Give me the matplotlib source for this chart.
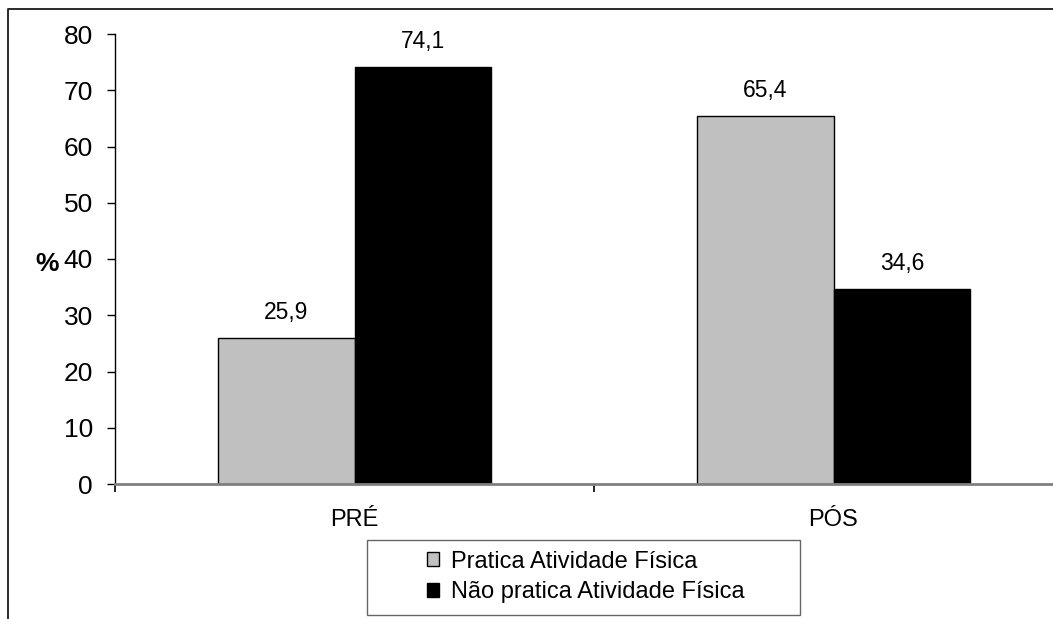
import matplotlib
matplotlib.use("Agg")
import numpy as np
import matplotlib.pyplot as plt
from matplotlib.lines import Line2D
from matplotlib.patches import Rectangle

# data
categories = ["PRÉ", "PÓS"]
pratica = [25.9, 65.4]
nao_pratica = [74.1, 34.6]
series_labels = ["Pratica Atividade Física", "Não pratica Atividade Física"]
yticks = [0, 10, 20, 30, 40, 50, 60, 70, 80]

W, H = 1053, 619
plt.rcParams['font.family'] = ['Liberation Sans', 'DejaVu Sans']
fig = plt.figure(figsize=(W / 100, H / 100), dpi=100)

# outer chart frame (runs off the right and bottom of the picture)
fig.add_artist(Line2D([8 / W, 8 / W, 1.0], [0.0, 1 - 9 / H, 1 - 9 / H],
                      transform=fig.transFigure, color='#1a1a1a', lw=1.3))

# plot area runs past the right edge, as in the original
ax = fig.add_axes([115 / W, (H - 484) / H, 958 / W, 450 / H])
x = np.arange(len(categories))
w = 0.286
ax.bar(x - w / 2, pratica, w, color='#c0c0c0', edgecolor='black', lw=1.0)
ax.bar(x + w / 2, nao_pratica, w, color='black', edgecolor='black', lw=1.0)

for xi, v in zip(x - w / 2, pratica):
    ax.annotate(f"{v:.1f}".replace('.', ','), (xi, v), xytext=(0, 14),
                textcoords='offset points', ha='center', va='baseline', fontsize=16.5)
for xi, v in zip(x + w / 2, nao_pratica):
    ax.annotate(f"{v:.1f}".replace('.', ','), (xi, v), xytext=(0, 14),
                textcoords='offset points', ha='center', va='baseline', fontsize=16.5)

ax.set_xlim(-0.5, 1.5)
ax.set_ylim(0, 80)
ax.set_yticks(yticks)
ax.tick_params(axis='y', direction='out', length=5.8, width=1, pad=10, labelsize=19)

ax.set_xticks([-0.5, 0.5, 1.5])
ax.set_xticklabels([])
ax.set_xticks(x, minor=True)
ax.set_xticklabels(categories, minor=True, fontsize=17)
ax.tick_params(axis='x', which='major', direction='out', length=5.8, width=1.2)
ax.tick_params(axis='x', which='minor', length=0, pad=18)

ax.spines['top'].set_visible(False)
ax.spines['right'].set_visible(False)
ax.spines['left'].set_linewidth(1.0)
ax.spines['bottom'].set_color('#808080')
ax.spines['bottom'].set_linewidth(2.0)

fig.text(47 / W, 1 - 264 / H, "%", fontsize=19, fontweight='bold',
         ha='center', va='center')

# legend box and entries
fig.add_artist(Rectangle((367 / W, 1 - 615 / H), 433 / W, 75 / H,
                         transform=fig.transFigure, fill=False,
                         edgecolor='#666666', lw=1.0))
handles = [Rectangle((0, 0), 1, 1, facecolor='#c0c0c0', edgecolor='black', lw=1.0),
           Rectangle((0, 0), 1, 1, facecolor='black', edgecolor='black', lw=1.0)]
fig.legend(handles, series_labels, loc='center left',
           bbox_to_anchor=(427 / W, 1 - 577 / H), frameon=False, fontsize=17,
           borderpad=0, borderaxespad=0, handlelength=0.52, handleheight=0.52,
           handletextpad=0.5, labelspacing=0.38)

fig.savefig("out.png", dpi=100)
